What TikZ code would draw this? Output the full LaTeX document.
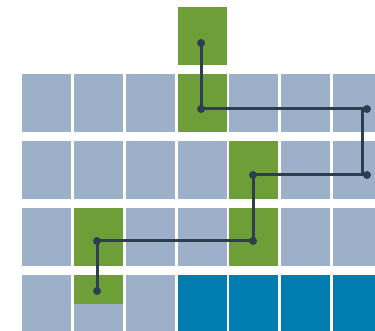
\documentclass[tikz,border=0pt]{standalone}
\definecolor{cellgray}{HTML}{9DB0C9}
\definecolor{cellgreen}{HTML}{6E9E38}
\definecolor{cellblue}{HTML}{007CB0}
\definecolor{linecol}{HTML}{2C3E50}
\begin{document}
\begin{tikzpicture}[x=1pt,y=-1pt,
  cell/.style={draw=none,inner sep=0pt,outer sep=0pt,minimum width=49pt,minimum height=58pt,anchor=north west},
  halfcell/.style={cell,minimum height=29pt},
  dot/.style={circle,fill=linecol,inner sep=0pt,minimum size=8pt},
  conn/.style={draw=linecol,line width=3pt}]
\useasboundingbox (0,0) rectangle (375,331);
\clip (0,0) rectangle (375,331);
% grid of gray cells
\foreach \c/\x in {1/22,2/73.8,3/125.7,4/177.5,5/229.3,6/281.2,7/333}{
  \foreach \r/\y in {1/74,2/141,3/208,4/275}{
    \node[cell,fill=cellgray] (c\r\c) at (\x,\y) {};
  }
}
% green cells
\node[cell,fill=cellgreen] (g0) at (177.5,7) {};
\node[cell,fill=cellgreen] (g1) at (177.5,74) {};
\node[cell,fill=cellgreen] (g2) at (229.3,141) {};
\node[cell,fill=cellgreen] (g3a) at (73.8,208) {};
\node[cell,fill=cellgreen] (g3b) at (229.3,208) {};
\node[halfcell,fill=cellgreen] (g4) at (73.8,275) {};
% blue cells
\foreach \x [count=\i] in {177.5,229.3,281.2,333}{
  \node[cell,fill=cellblue] (b\i) at (\x,275) {};
}
% path
\coordinate (k1) at (362,109);
\coordinate (k2) at (362,175);
\node[dot] (p1) at (201,43) {};
\node[dot] (p2) at (201,109) {};
\node[dot] (p3) at (367,109) {};
\node[dot] (p4) at (367,175) {};
\node[dot] (p5) at (253,175) {};
\node[dot] (p6) at (253,241) {};
\node[dot] (p7) at (97,241) {};
\node[dot] (p8) at (97,291) {};
\draw[conn] (p1.center) -- (p2.center) -- (k1) -- (k2) -- (p5.center) -- (p6.center) -- (p7.center) -- (p8.center);
\end{tikzpicture}
\end{document}
